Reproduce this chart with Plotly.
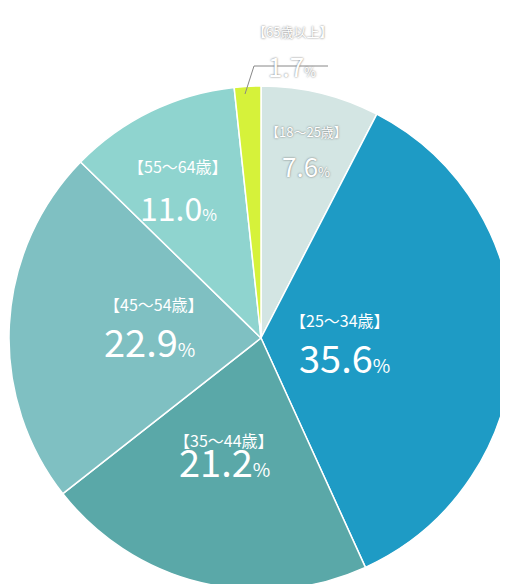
import plotly.graph_objects as go

labels = ["【18～25歳】", "【25～34歳】", "【35～44歳】", "【45～54歳】", "【55～64歳】", "【65歳以上】"]
values = [7.6, 35.6, 21.2, 22.9, 11.0, 1.7]
colors = ["#d3e5e3", "#1e9bc5", "#5aa8a8", "#7fc0c2", "#8fd4cf", "#d6f23a"]

W, H = 508, 584
fig = go.Figure(go.Pie(
    labels=labels, values=values, sort=False, direction="clockwise", rotation=0,
    marker=dict(colors=colors, line=dict(color="white", width=1.5)),
    textinfo="none", hoverinfo="label+percent", showlegend=False,
    domain=dict(x=[1 / W, 505 / W], y=[2 / H, 506 / H]),
))

# label centres in pixels (x, y of the category line, number size)
pos = [(298, 112, 26), (384, 312, 38), (216, 446, 38), (94, 296, 38), (170, 144, 32), (284, 12, 26)]
font = "Noto Sans CJK JP"
for lab, v, (px, py, ns) in zip(labels, values, pos):
    shadow = "0px 0px 2px #666" if lab in ("【18～25歳】", "【65歳以上】") else "none"
    lsize = 13 if shadow != "none" else 16
    fig.add_annotation(x=px / W, y=1 - py / H, xref="paper", yref="paper", showarrow=False,
                       text=lab, font=dict(family=font, size=lsize, color="white", shadow=shadow))
    fig.add_annotation(x=px / W, y=1 - (py + ns * 0.95) / H, xref="paper", yref="paper", showarrow=False,
                       text=f"{v:.1f}<span style='font-size:{int(ns * 0.5)}px'>%</span>",
                       font=dict(family=font, size=ns, color="white", shadow=shadow))

# leader line for 65+
fig.add_shape(type="path", xref="paper", yref="paper",
              path=f"M {237 / W},{1 - 86 / H} L {246 / W},{1 - 58 / H} L {320 / W},{1 - 58 / H}",
              line=dict(color="#888", width=1))

fig.update_layout(width=W, height=H, margin=dict(l=0, r=0, t=0, b=0),
                  paper_bgcolor="white", plot_bgcolor="white")
fig.write_html("out.html")
